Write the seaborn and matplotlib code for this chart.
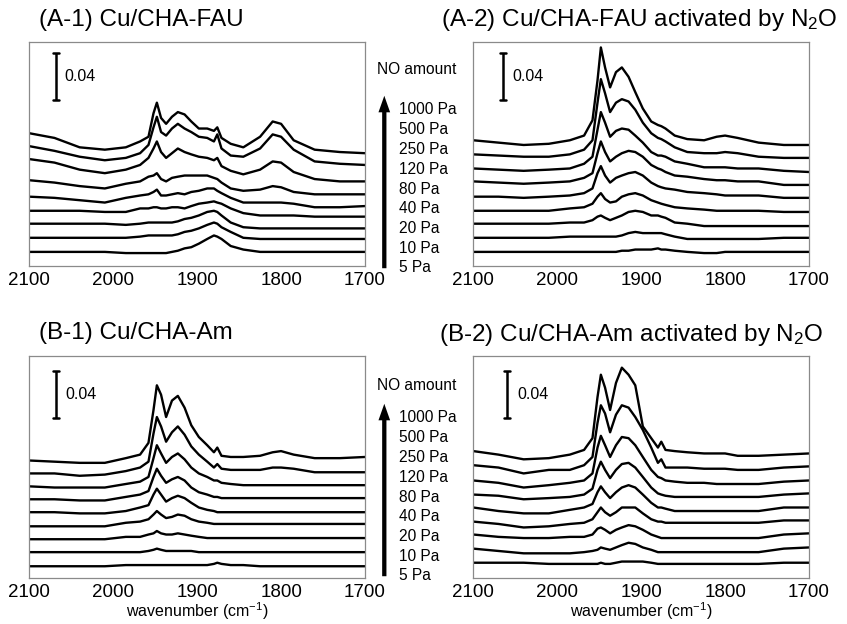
import numpy as np
import pandas as pd
import matplotlib
matplotlib.use("Agg")
import matplotlib.pyplot as plt
import seaborn as sns

# ---------------- data (absorbance in mAbs, stacked as plotted) ----------------
wavenumber = [2100, 2070, 2040, 2010, 1985, 1968, 1958, 1952, 1948, 1943, 1937, 1930,
              1923, 1915, 1907, 1898, 1888, 1880, 1876, 1871, 1860, 1845, 1825, 1810,
              1800, 1785, 1760, 1730, 1700]

pressure_labels = ["1000 Pa", "500 Pa", "250 Pa", "120 Pa", "80 Pa",
                   "40 Pa", "20 Pa", "10 Pa", "5 Pa"]

# (A-1) Cu/CHA-FAU  (top curve = 1000 Pa ... bottom = 5 Pa)
spectra_A1 = [
    [113, 109, 101, 99, 101, 106, 110, 130, 139, 126, 121, 127, 131, 129, 123, 117, 117, 115, 118, 109, 104, 101, 110, 123, 121, 107, 99, 97, 96],
    [102, 98, 93, 90, 92, 96, 103, 118, 127, 114, 111, 117, 121, 117, 114, 110, 109, 106, 112, 100, 94, 93, 100, 112, 110, 99, 89, 87, 86],
    [91, 88, 82, 79, 82, 86, 92, 100, 106, 97, 92, 96, 100, 97, 95, 93, 92, 90, 92, 85, 81, 78, 82, 89, 88, 80, 74, 72, 72],
    [73, 71, 68, 66, 70, 72, 76, 77, 79, 74, 72, 75, 76, 77, 77, 77, 77, 75, 74, 71, 66, 64, 65, 68, 67, 63, 61, 61, 61],
    [59, 58, 56, 54, 58, 60, 61, 63, 65, 60, 60, 61, 62, 61, 63, 64, 66, 66, 64, 62, 58, 54, 54, 54, 54, 53, 50, 50, 51],
    [47, 47, 47, 46, 46, 49, 49, 50, 50, 49, 49, 50, 50, 49, 51, 53, 54, 55, 54, 53, 49, 45, 43, 43, 43, 43, 42, 42, 42],
    [36, 36, 36, 36, 35, 36, 37, 37, 37, 37, 37, 37, 38, 40, 41, 43, 46, 47, 46, 43, 37, 33, 32, 32, 32, 32, 32, 32, 32],
    [24, 24, 24, 24, 24, 25, 26, 26, 26, 26, 26, 26, 27, 29, 30, 32, 35, 37, 36, 33, 29, 24, 23, 23, 23, 23, 23, 23, 23],
    [12, 12, 12, 12, 11, 11, 11, 11, 11, 11, 11, 12, 13, 15, 16, 19, 23, 26, 25, 23, 17, 14, 12, 12, 12, 12, 12, 12, 12],
]

# (A-2) Cu/CHA-FAU activated by N2O
spectra_A2 = [
    [107, 105, 103, 104, 107, 111, 124, 158, 186, 169, 152, 165, 169, 161, 148, 134, 123, 120, 119, 117, 111, 108, 107, 110, 111, 109, 105, 103, 103],
    [95, 94, 93, 93, 95, 99, 107, 139, 159, 147, 131, 139, 142, 140, 133, 122, 113, 109, 108, 106, 101, 97, 96, 96, 97, 96, 93, 92, 92],
    [83, 82, 81, 82, 83, 87, 93, 116, 131, 122, 110, 115, 117, 116, 111, 105, 97, 94, 94, 93, 89, 87, 84, 84, 84, 83, 83, 81, 80],
    [72, 71, 70, 71, 72, 75, 79, 96, 106, 97, 89, 93, 96, 98, 97, 93, 86, 83, 82, 80, 77, 76, 74, 73, 73, 72, 72, 69, 69],
    [59, 59, 58, 59, 60, 62, 66, 79, 85, 77, 71, 75, 77, 79, 80, 77, 71, 68, 67, 66, 65, 63, 62, 61, 60, 60, 60, 58, 58],
    [47, 47, 47, 47, 49, 50, 53, 59, 62, 57, 54, 55, 59, 61, 62, 60, 56, 54, 53, 52, 50, 49, 48, 47, 47, 47, 47, 46, 46],
    [36, 36, 36, 36, 37, 37, 39, 42, 43, 41, 39, 41, 43, 46, 47, 46, 43, 43, 42, 41, 37, 36, 34, 34, 34, 34, 34, 34, 34],
    [24, 24, 24, 24, 25, 25, 25, 25, 25, 25, 25, 25, 26, 28, 29, 28, 28, 28, 28, 27, 25, 23, 23, 23, 23, 23, 23, 24, 24],
    [12, 12, 12, 12, 12, 12, 12, 12, 12, 12, 12, 12, 13, 13, 14, 14, 14, 15, 14, 14, 13, 12, 11, 11, 12, 12, 12, 12, 12],
]

# (B-1) Cu/CHA-Am
spectra_B1 = [
    [100, 99, 98, 98, 102, 105, 115, 143, 164, 156, 137, 151, 155, 145, 130, 120, 113, 107, 111, 104, 103, 103, 104, 107, 108, 105, 102, 102, 103],
    [89, 89, 87, 88, 91, 94, 99, 123, 137, 129, 116, 124, 129, 122, 112, 105, 99, 94, 97, 93, 92, 92, 92, 94, 94, 93, 90, 90, 90],
    [78, 77, 77, 77, 80, 82, 86, 102, 113, 106, 98, 103, 106, 101, 94, 89, 86, 83, 83, 81, 80, 79, 79, 79, 79, 79, 79, 79, 79],
    [67, 67, 66, 66, 69, 71, 74, 86, 93, 87, 81, 84, 86, 83, 77, 73, 71, 69, 69, 68, 68, 68, 68, 68, 68, 68, 68, 68, 68],
    [56, 56, 55, 55, 57, 60, 62, 71, 76, 71, 65, 68, 70, 68, 64, 60, 58, 57, 56, 56, 56, 56, 56, 56, 56, 56, 56, 56, 56],
    [44, 44, 44, 44, 47, 48, 50, 54, 57, 54, 51, 52, 54, 53, 50, 48, 47, 46, 46, 46, 46, 46, 46, 46, 46, 46, 46, 46, 46],
    [33, 33, 33, 33, 35, 35, 37, 38, 40, 38, 37, 37, 38, 37, 36, 35, 34, 34, 34, 34, 34, 34, 34, 34, 34, 34, 34, 34, 34],
    [22, 22, 22, 22, 22, 22, 23, 24, 25, 24, 23, 23, 23, 23, 23, 22, 22, 22, 22, 22, 22, 22, 22, 22, 22, 22, 22, 22, 22],
    [10, 10, 10, 10, 11, 11, 11, 11, 11, 11, 11, 11, 11, 11, 11, 11, 11, 12, 13, 12, 11, 11, 10, 10, 10, 10, 10, 10, 10],
]

# (B-2) Cu/CHA-Am activated by N2O
spectra_B2 = [
    [108, 105, 101, 102, 105, 109, 119, 154, 173, 162, 143, 166, 179, 173, 164, 129, 119, 111, 116, 109, 108, 107, 106, 106, 106, 104, 104, 105, 106],
    [96, 94, 89, 92, 92, 96, 103, 132, 147, 140, 124, 139, 147, 145, 137, 126, 111, 98, 101, 94, 94, 94, 93, 93, 93, 92, 92, 94, 95],
    [83, 81, 77, 79, 81, 83, 89, 111, 121, 113, 103, 113, 120, 119, 113, 103, 92, 86, 85, 83, 82, 81, 81, 80, 80, 80, 80, 82, 83],
    [71, 70, 67, 68, 69, 71, 76, 92, 99, 92, 85, 92, 97, 98, 94, 86, 77, 72, 71, 70, 69, 69, 69, 69, 69, 69, 69, 71, 72],
    [60, 57, 55, 55, 58, 60, 63, 73, 78, 73, 68, 73, 77, 79, 77, 71, 64, 60, 60, 59, 57, 57, 57, 57, 57, 57, 57, 60, 60],
    [48, 46, 43, 44, 46, 47, 50, 56, 60, 56, 53, 56, 60, 60, 60, 55, 50, 48, 48, 47, 47, 47, 47, 47, 47, 47, 47, 49, 49],
    [37, 35, 34, 34, 35, 35, 37, 42, 43, 41, 38, 41, 43, 45, 44, 41, 37, 35, 34, 34, 34, 34, 34, 34, 34, 34, 34, 37, 38],
    [25, 23, 21, 21, 21, 22, 23, 24, 26, 25, 24, 26, 28, 30, 29, 26, 24, 22, 22, 22, 22, 22, 22, 22, 22, 22, 22, 25, 26],
    [13, 13, 13, 12, 12, 12, 12, 12, 13, 12, 12, 13, 14, 14, 14, 14, 13, 12, 12, 12, 12, 12, 12, 12, 12, 12, 12, 13, 13],
]

titles = ["(A-1) Cu/CHA-FAU", "(A-2) Cu/CHA-FAU activated by N$_2$O",
          "(B-1) Cu/CHA-Am", "(B-2) Cu/CHA-Am activated by N$_2$O"]
xticks = [2100, 2000, 1900, 1800, 1700]
scale_value = 0.04

# ---------------- layout (figure pixels, top-left origin) ----------------
W, H = 847, 624
sns.set_style("white")
plt.rcParams["font.family"] = ["Liberation Sans", "DejaVu Sans"]
plt.rcParams["mathtext.default"] = "regular"
plt.rcParams["text.color"] = "black"

fig = plt.figure(figsize=(W / 100, H / 100), dpi=100)

def fx(x):
    return x / W

def fy(y):
    return 1 - y / H

panels = [
    # spectra, axes box (x0, y0, x1, y1), title pos, scalebar (w, y0 abs), label w
    (spectra_A1, (29.3, 42, 365, 266), (39, 20), (2068, 0.141), 2058),
    (spectra_A2, (473.3, 42, 809, 266), (441, 20), (2064.5, 0.141), 2053),
    (spectra_B1, (29.3, 356, 365, 578), (39, 333), (2068, 0.136), 2057),
    (spectra_B2, (473.3, 356, 809, 578), (439, 335), (2060, 0.136), 2048),
]

px_per_abs = 47 / 0.04

for i, (spec, box, tpos, sbar, lab_w) in enumerate(panels):
    x0, y0, x1, y1 = box
    ax = fig.add_axes([fx(x0), fy(y1), (x1 - x0) / W, (y1 - y0) / H])
    df = pd.DataFrame({
        "wavenumber": np.tile(wavenumber, len(spec)),
        "absorbance": np.concatenate([np.array(s, dtype=float) for s in spec]) / 1000.0,
        "pressure": np.repeat(pressure_labels, len(wavenumber)),
    })
    sns.lineplot(data=df, x="wavenumber", y="absorbance", units="pressure",
                 estimator=None, color="black", linewidth=1.7, ax=ax, legend=False)
    ax.set_xlim(2100, 1700)
    ax.set_ylim(0, (y1 - y0) / px_per_abs)
    ax.set_xticks(xticks)
    ax.set_xticklabels([str(t) for t in xticks])
    ax.set_yticks([])
    ax.set_xlabel("")
    ax.set_ylabel("")
    ax.tick_params(axis="x", direction="out", length=3, width=0.8,
                   color="#8a8a8a", labelsize=13.5, pad=1.0, labelcolor="black")
    for sp in ax.spines.values():
        sp.set_color("#8a8a8a")
        sp.set_linewidth(0.9)

    # scale bar
    sw, sy0 = sbar
    cap = 3.5
    ax.plot([sw, sw], [sy0, sy0 + scale_value], color="black", lw=1.8,
            solid_capstyle="butt")
    ax.plot([sw - cap, sw + cap], [sy0, sy0], color="black", lw=1.8)
    ax.plot([sw - cap, sw + cap], [sy0 + scale_value] * 2, color="black", lw=1.8)
    ax.text(lab_w, sy0 + scale_value / 2, f"{scale_value:.2f}", ha="left",
            va="center", fontsize=11.5)

    fig.text(fx(tpos[0]), fy(tpos[1]), titles[i], ha="left", va="center",
             fontsize=17.5)

    if i >= 2:
        fig.text(fx((x0 + x1) / 2), fy(611), "wavenumber (cm$^{-1}$)",
                 ha="center", va="center", fontsize=11.5)

# NO amount legends with arrows
for (name_y, first_y, arrow_tip, arrow_tail) in [(70, 110, 93, 271), (385, 418, 401, 579)]:
    fig.text(fx(377), fy(name_y), "NO amount", ha="left", va="center", fontsize=11.2)
    step = 19.75
    for k, lab in enumerate(pressure_labels):
        fig.text(fx(399), fy(first_y + k * step), lab, ha="left", va="center",
                 fontsize=11.2)
    fig.add_artist(matplotlib.patches.FancyArrowPatch(
        (fx(384.3), fy(arrow_tail)), (fx(384.3), fy(arrow_tip)),
        transform=fig.transFigure,
        arrowstyle="simple,head_width=0.6,head_length=0.85,tail_width=0.22",
        mutation_scale=14, color="black", lw=0))

fig.savefig("out.png", dpi=100)
